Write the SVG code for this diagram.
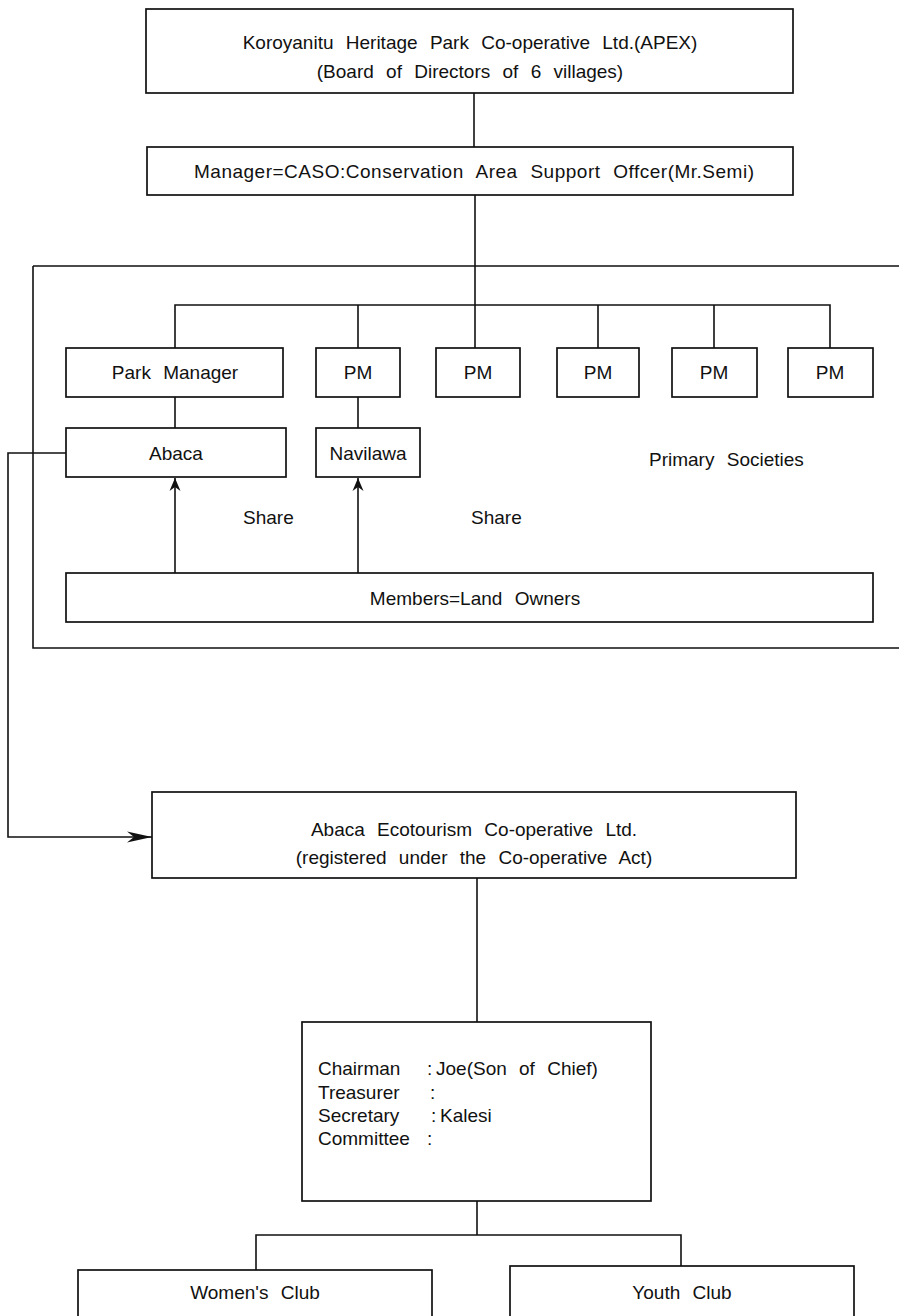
<svg xmlns="http://www.w3.org/2000/svg" width="899" height="1316" viewBox="0 0 899 1316">
<style>
.box{fill:#fff;stroke:#111;stroke-width:1.7}
.ln{fill:none;stroke:#111;stroke-width:1.6}
text{font-family:"Liberation Sans","DejaVu Sans",sans-serif;font-size:19px;fill:#111;word-spacing:7px}
.c{text-anchor:middle}
</style>
<defs>
<marker id="up" markerUnits="userSpaceOnUse" markerWidth="14" markerHeight="12" viewBox="0 0 14 12" refX="13" refY="6" orient="auto">
<path d="M0,0.5 L13,6 L0,11.5 L4,6 z" fill="#111"/>
</marker>
<marker id="rt" markerUnits="userSpaceOnUse" markerWidth="26" markerHeight="12" viewBox="0 0 26 12" refX="25" refY="6" orient="auto">
<path d="M0,0.5 L25,6 L0,11.5 L7,6 z" fill="#111"/>
</marker>
</defs>
<rect width="899" height="1316" fill="#fff"/>
<g id="connectors">
<path class="ln" d="M474,93 V147"/>
<path class="ln" d="M475,195 V348"/>
<path class="ln" d="M33,266 H899 M33,266 V648 H899"/>
<path class="ln" d="M175,348 V305 H830 V348"/>
<path class="ln" d="M358,305 V348 M598,305 V348 M714,305 V348"/>
<path class="ln" d="M175,397 V428 M358,397 V428"/>
<path class="ln" d="M175,573 V478" marker-end="url(#up)"/>
<path class="ln" d="M358,573 V478" marker-end="url(#up)"/>
<path class="ln" d="M66,453 H8 V837 H152" marker-end="url(#rt)"/>
<path class="ln" d="M477,878 V1022"/>
<path class="ln" d="M477,1201 V1235"/>
<path class="ln" d="M256,1270 V1235 H681 V1266"/>
</g>
<g id="apex"><rect class="box" x="146" y="9" width="647" height="84"/>
<text class="c" x="470" y="49">Koroyanitu Heritage Park Co-operative Ltd.(APEX)</text>
<text class="c" x="470" y="78">(Board of Directors of 6 villages)</text></g>
<g id="manager"><rect class="box" x="147" y="147" width="646" height="48"/>
<text class="c" x="474" y="178" textLength="560" lengthAdjust="spacing">Manager=CASO:Conservation Area Support Offcer(Mr.Semi)</text></g>
<g id="parkmanager"><rect class="box" x="66" y="348" width="217" height="49"/><text class="c" x="175" y="379">Park Manager</text></g>
<g id="pm2"><rect class="box" x="316" y="348" width="84" height="49"/><text class="c" x="358" y="379">PM</text></g>
<g id="pm3"><rect class="box" x="436" y="348" width="84" height="49"/><text class="c" x="478" y="379">PM</text></g>
<g id="pm4"><rect class="box" x="557" y="348" width="82" height="49"/><text class="c" x="598" y="379">PM</text></g>
<g id="pm5"><rect class="box" x="672" y="348" width="85" height="49"/><text class="c" x="714" y="379">PM</text></g>
<g id="pm6"><rect class="box" x="788" y="348" width="85" height="49"/><text class="c" x="830" y="379">PM</text></g>
<g id="abaca"><rect class="box" x="66" y="428" width="220" height="49"/><text class="c" x="176" y="460">Abaca</text></g>
<g id="navilawa"><rect class="box" x="316" y="428" width="104" height="49"/><text class="c" x="368" y="460">Navilawa</text></g>
<text id="primary" x="649" y="466">Primary Societies</text>
<text id="share1" x="243" y="524">Share</text>
<text id="share2" x="471" y="524">Share</text>
<g id="members"><rect class="box" x="66" y="573" width="807" height="49"/><text class="c" x="475" y="605">Members=Land Owners</text></g>
<g id="ecotourism"><rect class="box" x="152" y="792" width="644" height="86"/>
<text class="c" x="474" y="836">Abaca Ecotourism Co-operative Ltd.</text>
<text class="c" x="474" y="864">(registered under the Co-operative Act)</text></g>
<g id="officers"><rect class="box" x="302" y="1022" width="349" height="179"/>
<text x="318" y="1075">Chairman</text><text x="427" y="1075">:</text><text x="436" y="1075">Joe(Son of Chief)</text>
<text x="318" y="1099">Treasurer</text><text x="430" y="1099">:</text>
<text x="318" y="1122">Secretary</text><text x="431" y="1122">:</text><text x="440" y="1122">Kalesi</text>
<text x="318" y="1145">Committee</text><text x="427" y="1145">:</text></g>
<g id="women"><rect class="box" x="78" y="1270" width="354" height="60"/><text class="c" x="255" y="1299">Women's Club</text></g>
<g id="youth"><rect class="box" x="510" y="1266" width="344" height="64"/><text class="c" x="682" y="1299">Youth Club</text></g>
</svg>
